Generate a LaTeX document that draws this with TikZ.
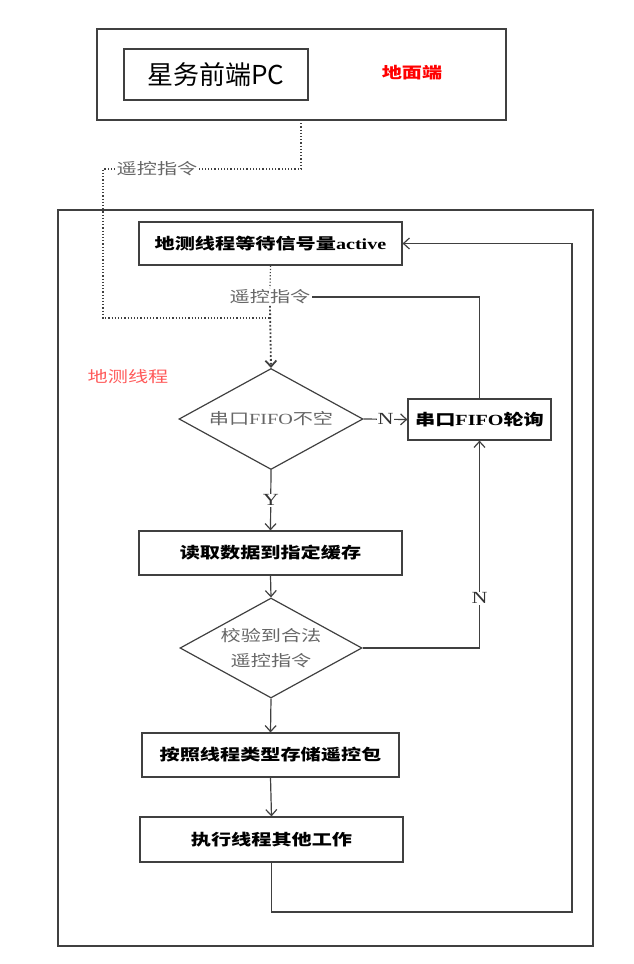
\documentclass[tikz,border=0pt]{standalone}
\usepackage{fontspec}
\setmainfont[FakeStretch=1.3]{Liberation Serif}
\newfontfamily\cjk[FakeStretch=1.3]{Noto Sans CJK SC}
\newfontfamily\pcfont{Noto Sans CJK SC}
\usetikzlibrary{shapes.geometric,arrows.meta}
\colorlet{linec}{black!75}
\newcommand{\zh}[1]{{\cjk #1}}

\begin{document}
\begin{tikzpicture}[x=1pt, y=-1pt, line width=1.2pt, color=linec,
	box/.style={draw, rectangle, inner sep=0pt, text=black, font=\bfseries\fontsize{15.5}{18}\selectfont},
	cond/.style={draw, diamond, aspect=1.82, inner sep=0pt, minimum width=184pt, minimum height=101pt, text=black!60, align=center, font=\fontsize{15.5}{25}\selectfont},
	arr/.style={-{Straight Barb[length=6pt,width=11pt]}},
	dots/.style={dotted},
	note/.style={text=black!60, inner sep=1pt, font=\fontsize{15.5}{18}\selectfont},
	yn/.style={fill=white, inner sep=1pt, text=black!80, font=\fontsize{17}{18}\selectfont}]
	\useasboundingbox (0,0) rectangle (634,964);
	% frames
	\node[draw, minimum width=409pt, minimum height=91pt] (ground) at (301.5,74.5) {};
	\node[draw, minimum width=535pt, minimum height=736pt] (thread) at (325.5,578) {};
	\node[draw, minimum width=184pt, minimum height=51pt, text=black, font=\pcfont\fontsize{26}{28}\selectfont] (pc) at (216,74.5) {星务前端PC};
	\node[text=red, font=\bfseries\fontsize{15.5}{18}\selectfont] (gndlbl) at (412,73) {\zh{地面端}};
	\node[text=red!65, font=\fontsize{15.5}{18}\selectfont] (thrlbl) at (128,377) {\zh{地测线程}};
	% flow
	\node[box, minimum width=263pt, minimum height=43pt] (wait) at (270.5,243.5) {\zh{地测线程等待信号量}active};
	\node[note] (rc2) at (270,297) {\zh{遥控指令}};
	\node[cond] (d1) at (271,419) {\zh{串口}FIFO\zh{不空}};
	\node[box, minimum width=143pt, minimum height=41pt] (poll) at (479.5,419.5) {\zh{串口}FIFO\zh{轮询}};
	\node[box, minimum width=263pt, minimum height=44pt] (read) at (270.5,553) {\zh{读取数据到指定缓存}};
	\node[cond, minimum width=182pt, minimum height=100pt] (d2) at (271,648) {\zh{校验到合法}\\\zh{遥控指令}};
	\node[box, minimum width=257pt, minimum height=44pt] (store) at (270.5,755) {\zh{按照线程类型存储遥控包}};
	\node[box, minimum width=263pt, minimum height=45pt] (work) at (271.5,839.5) {\zh{执行线程其他工作}};
	\node[note] (rc1) at (157,169) {\zh{遥控指令}};
	\coordinate (drop) at (301,120);
	\coordinate (bend) at (103,318);
	\coordinate (join) at (270,318);
	\coordinate (loop) at (572,912);
	% connectors
	\draw[dots] (drop) |- (rc1.east);
	\draw[dots] (rc1.west) -| (bend) -- (join);
	\draw[dots] (wait.south) -- (rc2.north);
	\draw[dots, line width=1.8pt, arr] (rc2.south) -- (d1.north);
	\draw (poll.north) |- (rc2.east);
	\draw[arr] (d1.east) -- node[yn] {N} (poll.west);
	\draw[arr] (d1.south) -- node[yn] {Y} (read.north);
	\draw[arr] (read.south) -- (d2.north);
	\draw[arr] (d2.east) -| node[yn, pos=0.62] {N} (poll.south);
	\draw[arr] (d2.south) -- (store.north);
	\draw[arr] (store.south) -- (work.north);
	\draw[arr] (work.south) |- (loop) |- (wait.east);
\end{tikzpicture}
\end{document}
